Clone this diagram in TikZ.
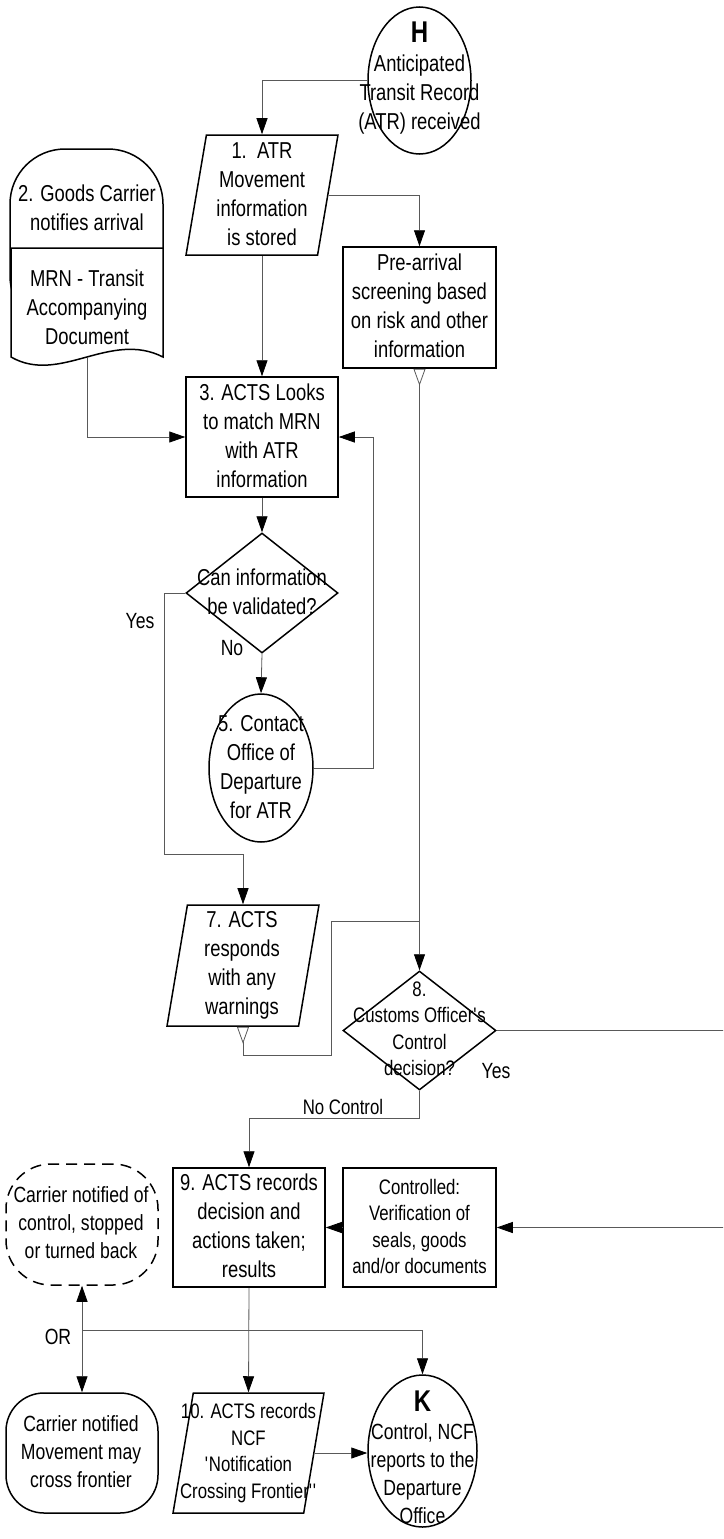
\documentclass[tikz,border=0pt]{standalone}
\usepackage{fontspec}
\setmainfont{Liberation Sans}[FakeStretch=0.8]
\usetikzlibrary{shapes.geometric,arrows.meta}

\tikzset{
  shp/.style={draw, line width=1.5pt, fill=white, inner sep=0pt},
  box/.style={shp, rectangle, minimum width=152pt, minimum height=120pt},
  oval/.style={shp, ellipse},
  choice/.style={shp, diamond, minimum width=152pt, minimum height=120pt},
  slant/.style={shp, trapezium, inner sep=2pt, trapezium left angle=79.6, trapezium right angle=100.4,
    trapezium stretches=true, minimum width=152pt, minimum height=120pt},
  txt/.style={align=center, inner sep=0pt, font=\fontsize{23}{29}\selectfont},
  txtm/.style={align=center, inner sep=0pt, font=\fontsize{22}{28}\selectfont},
  txts/.style={align=center, inner sep=0pt, font=\fontsize{21}{26.5}\selectfont},
  line/.style={draw=black!65, line width=0.8pt},
  tail/.style={line, {Triangle[open,reversed,length=17pt,width=12pt]}-},
  tailarr/.style={line, {Triangle[open,reversed,length=17pt,width=12pt]}->},
}

\begin{document}
\begin{tikzpicture}[x=1pt, y=-1pt, >={Triangle[length=16pt,width=11pt,color=black]}]
\useasboundingbox (0,0) rectangle (723,1539);
\clip (0,0) rectangle (723,1539);

% shapes
\node [oval, minimum width=103pt, minimum height=147pt] (h) at (419.5,80.5) {};
\node [slant] (s1) at (262,195) {};
\node [shp, rectangle, rounded corners=55pt, minimum width=153pt, minimum height=182pt] (carrier) at (86.5,240) {};
\draw [line width=1.5pt, fill=white] (163,357) .. controls (110,330) and (60,385) .. (11,357) -- (11,248) -- (163,248) -- cycle;
\coordinate (docb) at (87,357.5);
\node [box, minimum width=153pt, minimum height=121pt] (pre) at (419.5,307.5) {};
\node [box] (s3) at (262,437) {};
\node [choice] (q1) at (262,593) {};
\node [oval, minimum width=104pt, minimum height=148pt] (s5) at (261,768) {};
\node [slant, minimum height=121pt] (s7) at (243,965.5) {};
\node [choice, minimum width=153pt, minimum height=119pt] (q8) at (419.5,1030.5) {};
\node [box, minimum height=119pt] (s9) at (249,1227.5) {};
\node [box, minimum width=153pt, minimum height=119pt] (ctrl) at (419.5,1227.5) {};
\node [shp, rectangle, dashed, dash pattern=on 11pt off 7pt, rounded corners=45pt,
  minimum width=152pt, minimum height=121pt] (stopped) at (82,1224.5) {};
\node [shp, rectangle, rounded corners=38pt, minimum width=152pt, minimum height=120pt] (cross) at (82,1453) {};
\node [slant, minimum width=151pt] (s10) at (248.5,1453) {};
\node [oval, minimum width=109pt, minimum height=152pt] (k) at (422.5,1451) {};

% texts
\node [txt] (th) at (419.5,78) {{\fontsize{30}{30}\selectfont\bfseries H}\\Anticipated\\Transit Record\\(ATR) received};
\node [txt] (t1) at (262,194) {1.\ \ ATR\\Movement\\information\\is stored};
\node [txt] (tcarrier) at (87,207.5) {2. Goods Carrier\\notifies arrival};
\node [txt] (tdoc) at (87,307) {MRN - Transit\\Accompanying\\Document};
\node [txt] (tpre) at (419.5,306) {Pre-arrival\\screening based\\on risk and other\\information};
\node [txt] (t3) at (262,435.5) {3. ACTS Looks\\to match MRN\\with ATR\\information};
\node [txt] (tq1) at (262,591.5) {Can information\\be validated?};
\node [txt] (t5) at (261,767) {5. Contact\\Office of\\Departure\\for ATR};
\node [txt] (t7) at (242,965) {7. ACTS\\responds\\with any\\warnings};
\node [txts] (tq8) at (419.5,1029) {8.\\Customs Officer\textquotesingle s\\Control\\decision?};
\node [txt] (t9) at (249,1226) {9. ACTS records\\decision and\\actions taken;\\results};
\node [txts] (tctrl) at (419.5,1226.5) {Controlled:\\Verification of\\seals, goods\\and/or documents};
\node [txtm] (tstopped) at (81,1223) {Carrier notified of\\control, stopped\\or turned back};
\node [txtm] (tcross) at (81,1451.5) {Carrier notified\\Movement may\\cross frontier};
\node [txts] (t10) at (248.5,1453) {10. ACTS records\\NCF\\\textquotesingle Notification\\Crossing Frontier\textquotesingle\textquotesingle};
\node [txtm] (tk) at (422.5,1457) {{\fontsize{30}{30}\selectfont\bfseries K}\\Control, NCF\\reports to the\\Departure\\Office};

% labels
\node [txtm] (lyes1) at (140,621) {Yes};
\node [txtm] (lno1) at (232,648) {No};
\node [txts] (lnoctrl) at (343,1107) {No Control};
\node [txtm] (lyes2) at (496,1071) {Yes};
\node [txtm] (lor) at (58,1337) {OR};

% connectors
\draw [line, ->] (h.west) -| (s1.north);
\draw [line, ->] (s1.east) -| (pre.north);
\draw [line, ->] (s1.south) -- (s3.north);
\draw [line, ->] (docb) |- (s3.west);
\draw [tailarr] (pre.south) -- (q8.north);
\draw [line, ->] (s3.south) -- (q1.north);
\draw [line, ->] (q1.west) -| (164,854) -| (s7.north);
\draw [line, ->] (q1.south) -- (s5.north);
\draw [line, ->] (s5.east) -- (373,768) |- (s3.east);
\draw [tail] (s7.south) -- (243,1055) -| (331,921) -- (419.5,921);
\draw [line, ->] (q8.south) -- (419.5,1118) -| (s9.north);
\draw [line, ->] (q8.east) -- (740,1030.5) |- (ctrl.east);
\draw [line, ->] (ctrl.west) -- (s9.east);
\draw [line, ->] (s9.south) -- (s10.north);
\draw [line, <->] (stopped.south) -- (cross.north);
\draw [line, ->] (82,1330) -| (k.north);
\draw [line, ->] (s10.east) -- (s10.east -| k.west);
\end{tikzpicture}
\end{document}
